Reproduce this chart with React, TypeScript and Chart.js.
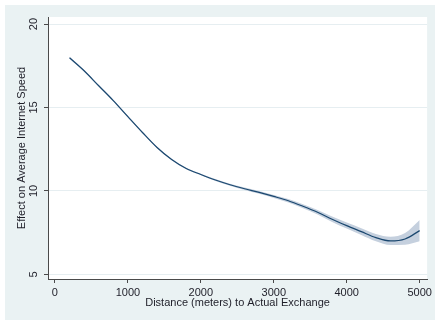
import { useEffect, useRef } from "react";
import { Chart, registerables } from "chart.js";

Chart.register(...registerables);

const distance = [200, 400, 600, 800, 1000, 1200, 1400, 1600, 1800, 2000, 2200, 2400, 2600, 2800, 3000, 3200, 3400, 3600, 3800, 4000, 4200, 4400, 4600, 4800, 5000];
const effect = [17.98, 17.2, 16.3, 15.41, 14.45, 13.5, 12.6, 11.88, 11.34, 10.98, 10.65, 10.37, 10.13, 9.91, 9.67, 9.41, 9.08, 8.72, 8.3, 7.92, 7.56, 7.2, 7.0, 7.12, 7.62];
const lowerCI = [17.92, 17.15, 16.25, 15.36, 14.4, 13.45, 12.55, 11.83, 11.29, 10.93, 10.59, 10.31, 10.06, 9.83, 9.58, 9.31, 8.96, 8.58, 8.14, 7.74, 7.36, 6.98, 6.75, 6.77, 6.98];
const upperCI = [18.04, 17.25, 16.35, 15.46, 14.5, 13.55, 12.65, 11.93, 11.39, 11.03, 10.71, 10.43, 10.2, 9.99, 9.76, 9.51, 9.2, 8.86, 8.46, 8.1, 7.76, 7.42, 7.25, 7.47, 8.25];
const xTicks = [0, 1000, 2000, 3000, 4000, 5000];
const yTicks = [5, 10, 15, 20];

const FONT = "'Liberation Sans', Arial, sans-serif";
const OUTER_BG = "#eaf2f3";
const AXIS = "#4a4a4a";
const TEXT = "#1e1e28";

const bgPlugin = {
  id: "bgPlugin",
  beforeDraw(chart: any) {
    const { ctx, chartArea, width, height } = chart;
    ctx.save();
    ctx.fillStyle = OUTER_BG;
    ctx.fillRect(0, 0, width, height);
    ctx.fillStyle = "#ffffff";
    ctx.fillRect(chartArea.left, chartArea.top, chartArea.right - chartArea.left, chartArea.bottom - chartArea.top);
    ctx.restore();
  },
};

export default function App() {
  const ref = useRef<HTMLCanvasElement | null>(null);

  useEffect(() => {
    if (!ref.current) return;
    const toPts = (ys: number[]) => distance.map((x, i) => ({ x, y: ys[i] }));
    const chart = new Chart(ref.current, {
      type: "line",
      data: {
        datasets: [
          {
            data: toPts(effect),
            borderWidth: 1.2,
            borderColor: "#1a476f",
            pointRadius: 0,
            fill: false,
            cubicInterpolationMode: "monotone",
          },
          {
            data: toPts(upperCI),
            borderWidth: 0,
            borderColor: "rgba(0,0,0,0)",
            backgroundColor: "#c5d0de",
            pointRadius: 0,
            fill: "+1",
            cubicInterpolationMode: "monotone",
          },
          {
            data: toPts(lowerCI),
            borderWidth: 0,
            borderColor: "rgba(0,0,0,0)",
            pointRadius: 0,
            fill: false,
            cubicInterpolationMode: "monotone",
          },
        ],
      },
      options: {
        animation: false,
        responsive: false,
        events: [],
        layout: { padding: { top: 12, right: 5, left: 0, bottom: 0 } },
        plugins: { legend: { display: false }, tooltip: { enabled: false } },
        scales: {
          x: {
            type: "linear",
            min: -95,
            max: 5102,
            afterBuildTicks: (s: any) => {
              s.ticks = xTicks.map((v) => ({ value: v }));
            },
            afterFit: (s: any) => {
              s.height = 41;
            },
            grid: {
              drawOnChartArea: false,
              color: "rgba(0,0,0,0)",
              tickColor: AXIS,
              tickLength: 4,
              tickWidth: 1,
            },
            border: { display: true, color: AXIS, width: 1 },
            ticks: {
              padding: 3,
              maxRotation: 0,
              minRotation: 0,
              color: TEXT,
              font: { family: FONT, size: 11 },
              callback: (v: any) => String(v),
            },
            title: {
              display: true,
              text: "Distance (meters) to Actual Exchange",
              color: TEXT,
              font: { family: FONT, size: 11 },
              padding: { top: 0, bottom: 10 },
            },
          },
          y: {
            type: "linear",
            min: 4.72,
            max: 20.42,
            afterBuildTicks: (s: any) => {
              s.ticks = yTicks.map((v) => ({ value: v }));
            },
            afterFit: (s: any) => {
              s.width = 43;
            },
            grid: {
              color: "#e6eef1",
              lineWidth: 1,
              tickColor: AXIS,
              tickLength: 4,
            },
            border: { display: true, color: AXIS, width: 1 },
            ticks: {
              padding: 4,
              minRotation: 90,
              maxRotation: 90,
              crossAlign: "center",
              color: TEXT,
              font: { family: FONT, size: 11 },
              callback: (v: any) => String(v),
            },
            title: {
              display: true,
              text: "Effect on Average Internet Speed",
              color: TEXT,
              font: { family: FONT, size: 11 },
              padding: { top: 10, bottom: 0 },
            },
          },
        },
      },
      plugins: [bgPlugin],
    });
    return () => chart.destroy();
  }, []);

  return (
    <div style={{ position: "absolute", left: 5, top: 5, width: 430, height: 315 }}>
      <canvas ref={ref} width={430} height={315} style={{ display: "block", width: 430, height: 315 }} />
    </div>
  );
}
